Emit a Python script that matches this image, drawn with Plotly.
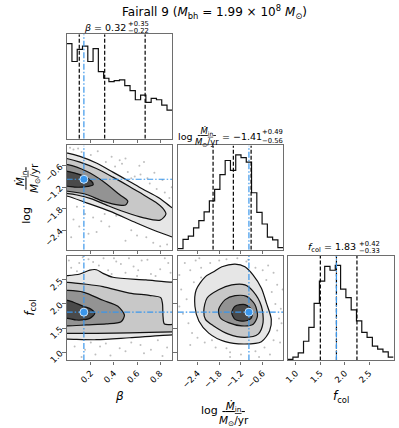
import numpy as np
import plotly.graph_objects as go

W, H = 399, 428
FONT = "DejaVu Sans"
SPINE = "#6e6e6e"
BLUE = "rgb(58,150,235)"

# axis limits of the three parameters
beta_lim = [-0.009, 0.905]
lmdot_lim = [-2.945, -0.035]
fcol_lim = [0.83, 3.0]

# 1D marginal histograms, 20 bins each (relative counts)
beta_counts = [283, 230, 266, 276, 230, 268, 200, 180, 170, 173,
               175, 158, 143, 116, 130, 108, 120, 116, 100, 85]
lmdot_counts = [3, 31, 41, 66, 88, 115, 148, 183, 228, 271,
                241, 288, 280, 266, 173, 113, 78, 38, 30, 6]
fcol_counts = [3, 10, 23, 58, 100, 173, 240, 285, 273, 288,
               216, 190, 153, 120, 85, 70, 43, 34, 26, 10]

# 16th / 50th / 84th percentiles and the reference (truth) point
beta_q = [0.10, 0.32, 0.67]
lmdot_q = [-1.97, -1.41, -0.92]
fcol_q = [1.50, 1.83, 2.25]
truth = [0.14, -0.98, 1.83]

# contour levels of the 2D posteriors (outer -> inner), data coordinates
# beta vs log Mdot
a_x = [[-0.1, 0.0, 0.106, 0.248, 0.391, 0.534, 0.648, 0.791, 0.905, 1.0, 1.0, 0.905, 0.762, 0.591, 0.363, 0.163, 0.0, -0.1],
       [-0.1, 0.0, 0.106, 0.248, 0.391, 0.534, 0.648, 0.762, 0.82, 0.85, 0.80, 0.65, 0.5, 0.35, 0.2, 0.08, 0.0, -0.1],
       [-0.1, 0.0, 0.163, 0.305, 0.448, 0.52, 0.50, 0.448, 0.305, 0.163, 0.0, -0.1],
       [-0.1, 0.0, 0.106, 0.206, 0.22, 0.15, 0.06, 0.0, -0.1]]
a_y = [[-0.2, -0.249, -0.341, -0.527, -0.78, -1.04, -1.25, -1.5, -1.777, -1.95, -2.7, -2.591, -2.425, -2.193, -1.869, -1.638, -1.453, -1.4],
       [-0.36, -0.406, -0.50, -0.68, -0.92, -1.18, -1.40, -1.62, -1.78, -1.95, -2.12, -2.05, -1.90, -1.72, -1.52, -1.42, -1.38, -1.36],
       [-0.55, -0.573, -0.758, -1.036, -1.406, -1.59, -1.70, -1.703, -1.591, -1.406, -1.314, -1.3],
       [-0.74, -0.758, -0.851, -1.036, -1.13, -1.19, -1.2, -1.175, -1.17]]
# beta vs f_col
b_x = [[-0.1, 0.0, 0.106, 0.191, 0.248, 0.305, 0.391, 0.677, 0.905, 1.0, 1.0, 0.905, 0.534, 0.248, 0.0, -0.1],
       [-0.1, 0.0, 0.163, 0.305, 0.534, 0.705, 0.805, 0.82, 0.825, 0.837, 0.95, 1.0, 1.0, 0.905, 0.534, 0.248, 0.0, -0.1],
       [-0.1, 0.0, 0.134, 0.305, 0.434, 0.491, 0.462, 0.334, 0.163, 0.0, -0.1],
       [-0.1, 0.0, 0.134, 0.206, 0.234, 0.191, 0.077, 0.0, -0.1]]
b_y = [[2.58, 2.588, 2.622, 2.704, 2.711, 2.636, 2.554, 2.499, 2.452, 2.45, 1.36, 1.36, 1.30, 1.259, 1.272, 1.272],
       [2.45, 2.45, 2.41, 2.36, 2.227, 2.179, 2.131, 2.009, 1.736, 1.586, 1.586, 1.586, 1.42, 1.42, 1.40, 1.39, 1.39, 1.39],
       [2.28, 2.281, 2.247, 2.077, 1.954, 1.77, 1.633, 1.586, 1.565, 1.545, 1.545],
       [2.08, 2.077, 1.954, 1.886, 1.804, 1.702, 1.668, 1.702, 1.70]]
# log Mdot vs f_col
c_x = [[-1.953, -1.726, -1.363, -1.09, -0.863, -0.635, -0.499, -0.363, -0.408, -0.635, -1.09, -1.635, -2.09, -2.362, -2.471, -2.435, -2.18, -1.953],
       [-2.226, -2.135, -1.817, -1.454, -1.09, -0.863, -0.635, -0.59, -0.726, -1.09, -1.544, -1.953, -2.18, -2.226],
       [-1.817, -1.635, -1.363, -1.045, -0.817, -0.745, -0.863, -1.181, -1.544, -1.772, -1.817],
       [-1.454, -1.363, -1.09, -0.908, -0.908, -1.09, -1.363, -1.454]]
c_y = [[2.67, 2.772, 2.827, 2.772, 2.6, 2.329, 2.022, 1.681, 1.443, 1.218, 1.17, 1.218, 1.396, 1.647, 1.954, 2.295, 2.567, 2.67],
       [1.852, 2.124, 2.295, 2.397, 2.397, 2.261, 1.954, 1.613, 1.375, 1.307, 1.375, 1.545, 1.681, 1.852],
       [1.886, 2.09, 2.172, 2.158, 1.988, 1.749, 1.579, 1.545, 1.613, 1.715, 1.886],
       [1.818, 1.954, 1.988, 1.886, 1.715, 1.647, 1.681, 1.818]]

# isolated samples outside the outer contours
a_pts_x = [0.05, 0.12, 0.33, 0.41, 0.47, 0.52, 0.58, 0.63, 0.71, 0.77, 0.84, 0.88, 0.69, 0.45,
           0.08, 0.15, 0.22, 0.29, 0.36, 0.05, 0.18, 0.6, 0.74, 0.86, 0.55,
           0.02, 0.09, 0.2, 0.26, 0.38, 0.5, 0.62, 0.75, 0.82, 0.9, 0.66, 0.55,
           0.1, 0.25, 0.32, 0.42, 0.5, 0.68, 0.8, 0.03]
a_pts_y = [-0.15, -0.22, -0.5, -0.62, -0.55, -0.78, -0.9, -0.85, -1.1, -1.25, -1.35, -1.5, -0.95, -0.45,
           -1.75, -1.95, -2.05, -2.15, -2.3, -2.1, -2.5, -2.55, -2.75, -2.8, -2.4,
           -0.1, -0.12, -0.3, -0.2, -0.35, -0.4, -0.6, -0.8, -1.0, -1.2, -0.5, -0.95,
           -2.3, -2.45, -1.95, -2.0, -2.7, -2.6, -2.85, -2.6]
b_pts_x = [0.03, 0.1, 0.18, 0.27, 0.35, 0.42, 0.5, 0.57, 0.64, 0.72, 0.8, 0.87,
           0.06, 0.15, 0.24, 0.33, 0.45, 0.55, 0.66, 0.78, 0.86, 0.4, 0.6, 0.2,
           0.01, 0.08, 0.13, 0.22, 0.31, 0.38, 0.46, 0.53, 0.61, 0.69, 0.76, 0.84, 0.89,
           0.12, 0.28, 0.37, 0.5, 0.63, 0.72, 0.82]
b_pts_y = [2.75, 2.85, 2.93, 2.8, 2.7, 2.88, 2.65, 2.78, 2.9, 2.62, 2.72, 2.85,
           1.12, 1.05, 0.95, 1.18, 1.08, 1.2, 0.98, 1.25, 1.1, 2.95, 2.58, 1.2,
           2.9, 2.68, 2.97, 2.87, 2.95, 2.62, 2.83, 2.95, 2.7, 2.92, 2.58, 2.95, 2.65,
           0.9, 1.12, 0.93, 1.02, 1.15, 1.05, 0.92]
c_pts_x = [-2.75, -2.6, -2.45, -2.3, -2.85, -2.7, -2.8, -2.65, -2.55, -2.2, -1.9, -1.5, -1.2, -0.8,
           -0.55, -0.3, -0.2, -0.15, -0.25, -0.35, -0.5, -0.8, -1.3, -1.8, -2.3, -0.1, -0.6, -1.0,
           -2.9, -2.5, -2.35, -2.05, -1.6, -1.05, -0.45, -0.2, -0.08, -0.12, -0.4, -0.7,
           -1.6, -2.0, -2.6, -2.9, -2.4, -0.3, -0.05, -1.5]
c_pts_y = [2.85, 2.7, 2.9, 2.75, 2.3, 2.1, 1.8, 1.6, 1.4, 1.2, 1.1, 1.0, 0.95, 1.02,
           1.1, 1.25, 1.45, 1.7, 2.0, 2.25, 2.5, 2.75, 2.95, 2.9, 2.55, 1.9, 2.7, 2.92,
           2.6, 2.45, 2.95, 2.85, 2.93, 2.88, 2.8, 2.4, 1.6, 1.2, 0.95, 0.9,
           1.08, 1.25, 1.15, 1.95, 1.3, 2.65, 2.3, 0.9]

fill_grays = ['#e6e6e6', '#c8c8c8', '#939393', '#4a4a4a']

lims = [beta_lim, lmdot_lim, fcol_lim]
tickv = [[0.2, 0.4, 0.6, 0.8], [-2.4, -1.8, -1.2, -0.6], [1.0, 1.5, 2.0, 2.5]]
tickt = [["0.2", "0.4", "0.6", "0.8"], ["\u22122.4", "\u22121.8", "\u22121.2", "\u22120.6"], ["1.0", "1.5", "2.0", "2.5"]]
counts = [beta_counts, lmdot_counts, fcol_counts]
quants = [beta_q, lmdot_q, fcol_q]

# panel boxes in pixels
cols = [(63.3, 170.0), (175.5, 282.0), (286.5, 393.5)]
rows = [(34.5, 140.0), (146.8, 252.0), (258.2, 363.8)]
panel_id = {(0, 0): 1, (1, 0): 2, (1, 1): 3, (2, 0): 4, (2, 1): 5, (2, 2): 6}


def ref(n):
    s = '' if n == 1 else str(n)
    return 'x' + s, 'y' + s


fig = go.Figure()
layout_axes = {}
for (r, c), n in panel_id.items():
    xa, ya = ref(n)
    common = dict(showline=True, linecolor=SPINE, linewidth=1.2, mirror=True,
                  showgrid=False, zeroline=False, fixedrange=True,
                  ticks='outside', ticklen=3.5, tickwidth=1, tickcolor=SPINE,
                  tickfont=dict(family=FONT, size=8.5, color='black'), tickangle=-45)
    layout_axes['xaxis' + ('' if n == 1 else str(n))] = dict(
        common, domain=[cols[c][0] / W, cols[c][1] / W], range=lims[c], anchor=ya,
        tickmode='array', tickvals=tickv[c], ticktext=tickt[c], showticklabels=(r == 2))
    if r == c:
        ymax = 1.1 * max(counts[c])
        layout_axes['yaxis' + ('' if n == 1 else str(n))] = dict(
            common, domain=[1 - rows[r][1] / H, 1 - rows[r][0] / H], range=[0, ymax],
            anchor=xa, ticks='', showticklabels=False)
    else:
        layout_axes['yaxis' + ('' if n == 1 else str(n))] = dict(
            common, domain=[1 - rows[r][1] / H, 1 - rows[r][0] / H], range=lims[r],
            anchor=xa, tickmode='array', tickvals=tickv[r], ticktext=tickt[r],
            showticklabels=(c == 0))

# 1D histograms
for i in range(3):
    n = panel_id[(i, i)]
    xa, ya = ref(n)
    cnt = counts[i]
    edges = np.linspace(lims[i][0], lims[i][1], len(cnt) + 1)
    ymax = 1.1 * max(cnt)
    fig.add_trace(go.Scatter(x=edges, y=list(cnt) + [cnt[-1]], mode='lines',
                             line=dict(color='#111', width=1.2, shape='hv'),
                             xaxis=xa, yaxis=ya, hoverinfo='skip'))
    for q in quants[i]:
        fig.add_trace(go.Scatter(x=[q, q], y=[0, ymax], mode='lines',
                                 line=dict(color='black', width=1.2, dash='4px,2px'),
                                 xaxis=xa, yaxis=ya, hoverinfo='skip'))
    fig.add_trace(go.Scatter(x=[truth[i], truth[i]], y=[0, ymax], mode='lines',
                             line=dict(color=BLUE, width=1.2, dash='6px,2px,1.5px,2px'),
                             xaxis=xa, yaxis=ya, hoverinfo='skip'))

# 2D panels
panels2d = [((1, 0), a_x, a_y, a_pts_x, a_pts_y),
            ((2, 0), b_x, b_y, b_pts_x, b_pts_y),
            ((2, 1), c_x, c_y, c_pts_x, c_pts_y)]
for (r, c), cx, cy, px, py in panels2d:
    n = panel_id[(r, c)]
    xa, ya = ref(n)
    fig.add_trace(go.Scatter(x=px, y=py, mode='markers',
                             marker=dict(size=2, color='rgba(110,110,110,0.45)'),
                             xaxis=xa, yaxis=ya, hoverinfo='skip'))
    for k in range(len(cx)):
        fig.add_trace(go.Scatter(x=cx[k], y=cy[k], mode='lines', fill='toself',
                                 fillcolor=fill_grays[k],
                                 line=dict(color='#111', width=1.2, shape='spline', smoothing=0.8),
                                 xaxis=xa, yaxis=ya, hoverinfo='skip'))
    # truth cross-hair and point
    fig.add_trace(go.Scatter(x=[truth[c], truth[c]], y=lims[r], mode='lines',
                             line=dict(color=BLUE, width=1.2, dash='6px,2px,1.5px,2px'),
                             xaxis=xa, yaxis=ya, hoverinfo='skip'))
    fig.add_trace(go.Scatter(x=lims[c], y=[truth[r], truth[r]], mode='lines',
                             line=dict(color=BLUE, width=1.2, dash='6px,2px,1.5px,2px'),
                             xaxis=xa, yaxis=ya, hoverinfo='skip'))
    fig.add_trace(go.Scatter(x=[truth[c]], y=[truth[r]], mode='markers',
                             marker=dict(size=8, color=BLUE, line=dict(color='#cfe6fb', width=1)),
                             xaxis=xa, yaxis=ya, hoverinfo='skip'))


def note(x, y, text, size, xanchor='center', **kw):
    fig.add_annotation(x=x / W, y=1 - y / H, xref='paper', yref='paper', text=text,
                       xanchor=xanchor, yanchor='middle', borderpad=0,
                       showarrow=False, font=dict(family=FONT, size=size, color='black'), **kw)


frac = "<u>&nbsp;<i>\u1e40</i><sub>in</sub>&nbsp;</u><br><i>M</i><sub>\u2299</sub>/yr"

# title
note(212.5, 12, "Fairall 9 (<i>M</i><sub>bh</sub> = 1.99 \u00d7 10<sup>8</sup> <i>M</i><sub>\u2299</sub>)", 12)

# marginal titles
note(124, 27.5, "<i>\u03b2</i> = 0.32", 9.5, xanchor='right')
note(124.5, 24.5, "+0.35", 6.8, xanchor='left')
note(124.5, 31, "\u22120.22", 6.8, xanchor='left')

note(183, 138, "log", 9.5)
note(205, 138.5, frac, 8.5)
note(219, 138, "= \u22121.41", 9.5, xanchor='left')
note(259.5, 133.5, "+0.49", 6.8, xanchor='left')
note(259.5, 142, "\u22120.56", 6.8, xanchor='left')

note(357, 249.5, "<i>f</i><sub>col</sub> = 1.83", 9.5, xanchor='right')
note(357.5, 246.5, "+0.42", 6.8, xanchor='left')
note(357.5, 253, "\u22120.33", 6.8, xanchor='left')

# axis labels
note(116.7, 400, "<i>\u03b2</i>", 12)
note(340, 401, "<i>f</i><sub>col</sub>", 12)
note(208, 414, "log", 11)
note(232, 418, frac, 10.5)
note(23, 217, "log", 11, textangle=-90)
note(25, 180, frac, 10.5, textangle=-90)
note(27, 311, "<i>f</i><sub>col</sub>", 12, textangle=-90)

fig.update_layout(width=W, height=H, margin=dict(l=0, r=0, t=0, b=0),
                  paper_bgcolor='white', plot_bgcolor='white', showlegend=False,
                  **layout_axes)
fig.write_html("out.html", config={'displayModeBar': False},
               post_script="document.body.style.margin='0px';")
